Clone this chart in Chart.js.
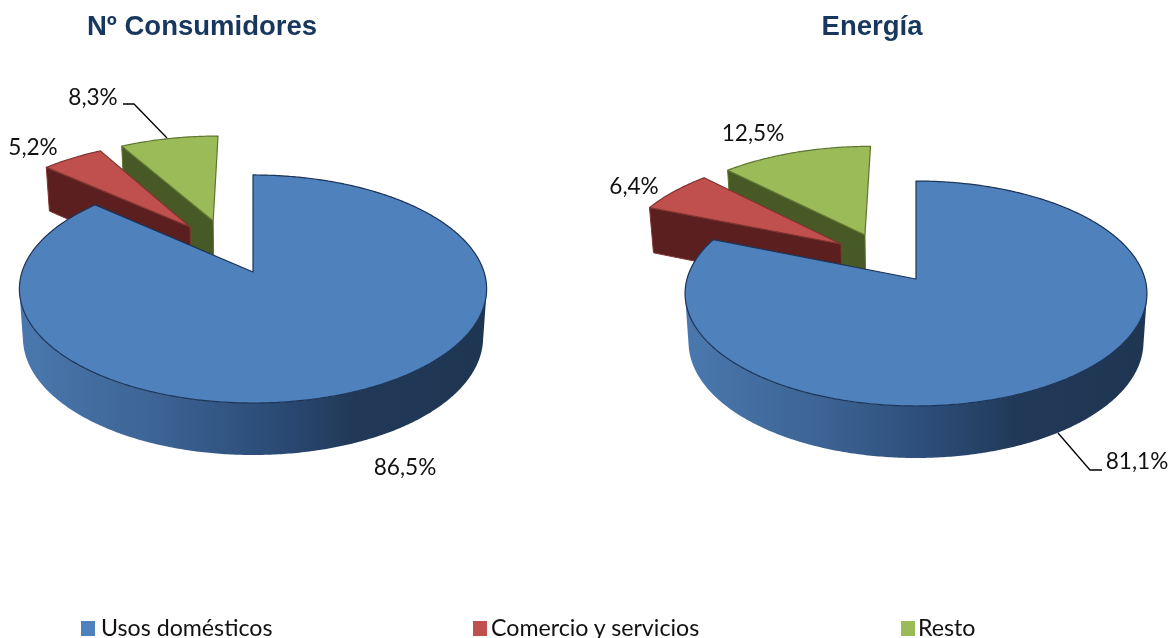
<!DOCTYPE html>
<html lang="es">
<head>
<meta charset="utf-8">
<title>Consumidores y energía</title>
<script src="https://cdn.jsdelivr.net/npm/chart.js@4"></script>
<style>
  html, body { margin: 0; padding: 0; background: #fff; }
  #page { position: relative; width: 1171px; height: 638px; overflow: hidden; }
  canvas { position: absolute; top: 0; }
  #cConsumidores { left: 0; }
  #cEnergia { left: 585px; }
  .ley { position: absolute; top: 610px; height: 28px; font: 23.2px/34px Lato, sans-serif; color: #111; white-space: nowrap; }
  .cuadro { position: absolute; top: 621px; width: 14px; height: 15px; }
</style>
</head>
<body>
<div id="page">
  <canvas id="cConsumidores"></canvas>
  <canvas id="cEnergia"></canvas>
</div>
<script>
const categorias = ['Usos domésticos', 'Comercio y servicios', 'Resto'];
const consumidores = [86.5, 5.2, 8.3];
const energia = [81.1, 6.4, 12.5];

const colores = ['#4f81bd', '#c0504d', '#9bbb59'];
const bordes = ['#1d3557', '#7f3331', '#5f7530'];
const lados = [null, '#5a1f1e', '#475a25'];

// posicion en pagina de cada leyenda
const leyendaX = [101, 491, 918];
const cuadroX = [81, 473, 901];

// vista en perspectiva de cada tarta (coordenadas de pagina)
const vistaConsumidores = {
  left: 0, ax: 253, ay: 272, A: 231, B: 111.5, k: 0.149,
  sep: [[0, 0], [-0.29, -0.429], [-0.185, -0.49]],
  etiquetas: [[405, 468], [33, 148], [93, 98]],
  guias: [[[123, 104], [134, 104], [167, 138]]]
};
const vistaEnergia = {
  left: 585, ax: 916, ay: 279, A: 229, B: 110.6, k: 0.129,
  sep: [[0, 0], [-0.342, -0.33], [-0.235, -0.419]],
  etiquetas: [[1137, 462], [634, 187], [753, 134]],
  guias: [[[1058, 433], [1090, 470], [1102, 470]]]
};

function proyectar(v, u, w, abajo) {
  const d = 1 - v.k * w;
  const esc = abajo ? 0.985 : 1;
  return [
    v.ax + esc * v.A * u / d,
    v.ay + v.B * w / d + (abajo ? 48 + 4 * w : 0)
  ];
}

function puntosArco(v, arc, sep, abajo) {
  const pts = [];
  const pasos = Math.ceil((arc.endAngle - arc.startAngle) / 0.01);
  for (let i = 0; i <= pasos; i++) {
    const a = arc.startAngle + (arc.endAngle - arc.startAngle) * i / pasos;
    pts.push(proyectar(v, Math.cos(a) + sep[0], Math.sin(a) + sep[1], abajo));
  }
  return pts;
}

function subtrazo(ctx, pts) {
  pts.forEach((p, i) => i ? ctx.lineTo(p[0], p[1]) : ctx.moveTo(p[0], p[1]));
  ctx.closePath();
}

function trazar(ctx, pts) {
  ctx.beginPath();
  subtrazo(ctx, pts);
}

// area con signo, para dejar todos los tramos con el mismo sentido
function area(pts) {
  let s = 0;
  pts.forEach((p, i) => {
    const q = pts[(i + 1) % pts.length];
    s += p[0] * q[1] - q[0] * p[1];
  });
  return s;
}

const tarta3d = {
  id: 'tarta3d',
  beforeDatasetDraw(chart) {
    const v = chart.options.plugins.tarta3d.vista;
    const ctx = chart.ctx;
    const arcos = chart.getDatasetMeta(0).data;
    ctx.save();
    ctx.translate(-v.left, 0);
    ctx.lineJoin = 'round';
    for (let i = arcos.length - 1; i >= 0; i--) {
      const arc = arcos[i];
      const sep = v.sep[i];
      const arriba = puntosArco(v, arc, sep, false);
      const bajo = puntosArco(v, arc, sep, true);
      const c0 = proyectar(v, sep[0], sep[1], false);
      const c1 = proyectar(v, sep[0], sep[1], true);
      ctx.strokeStyle = arc.options.borderColor;
      if (lados[i]) {
        // cara radial visible
        ctx.fillStyle = lados[i];
        ctx.lineWidth = 1;
        trazar(ctx, [c0, arriba[0], bajo[0], c1]);
        ctx.fill();
        ctx.stroke();
      } else {
        // pared exterior: un solo path, para que no se vean costuras
        const degradado = ctx.createLinearGradient(v.ax - v.A, 0, v.ax + v.A, 0);
        degradado.addColorStop(0, '#4a78ae');
        degradado.addColorStop(0.3, '#3c6393');
        degradado.addColorStop(0.55, '#2b4b76');
        degradado.addColorStop(0.72, '#213957');
        degradado.addColorStop(1, '#1f3653');
        ctx.fillStyle = degradado;
        ctx.beginPath();
        for (let j = 0; j < arriba.length - 1; j++) {
          const tramo = [arriba[j], arriba[j + 1], bajo[j + 1], bajo[j]];
          subtrazo(ctx, area(tramo) < 0 ? tramo.reverse() : tramo);
        }
        ctx.fill();
      }
      // cara superior
      trazar(ctx, [c0].concat(arriba));
      ctx.fillStyle = arc.options.backgroundColor;
      ctx.fill();
      ctx.lineWidth = 1.2;
      ctx.stroke();
    }
    ctx.restore();
    return false;
  },
  afterDatasetsDraw(chart) {
    const v = chart.options.plugins.tarta3d.vista;
    const ctx = chart.ctx;
    const valores = chart.data.datasets[0].data;
    ctx.save();
    ctx.translate(-v.left, 0);
    ctx.strokeStyle = '#000';
    ctx.lineWidth = 1.3;
    v.guias.forEach(g => {
      ctx.beginPath();
      g.forEach((p, i) => i ? ctx.lineTo(p[0], p[1]) : ctx.moveTo(p[0], p[1]));
      ctx.stroke();
    });
    ctx.fillStyle = '#111';
    ctx.font = '22.6px Lato, sans-serif';
    ctx.textAlign = 'center';
    ctx.textBaseline = 'middle';
    valores.forEach((val, i) => {
      const texto = val.toFixed(1).replace('.', ',') + '%';
      ctx.fillText(texto, v.etiquetas[i][0], v.etiquetas[i][1]);
    });
    ctx.restore();
  }
};

function crearTarta(id, ancho, titulo, valores, vista, margenDer) {
  const canvas = document.getElementById(id);
  canvas.width = ancho;
  canvas.height = 638;
  return new Chart(canvas, {
    type: 'pie',
    data: {
      labels: categorias,
      datasets: [{ data: valores, backgroundColor: colores, borderColor: bordes }]
    },
    options: {
      responsive: false,
      animation: false,
      layout: { padding: { right: margenDer } },
      plugins: {
        legend: { display: false },
        tooltip: { enabled: false },
        title: {
          display: true,
          text: titulo,
          color: '#17375e',
          font: { family: '"Liberation Sans", Arial, sans-serif', size: 27.5, weight: 'bold' },
          padding: { top: 11, bottom: 10 }
        },
        tarta3d: { vista: vista }
      }
    },
    plugins: [tarta3d]
  });
}

crearTarta('cConsumidores', 585, 'Nº Consumidores', consumidores, vistaConsumidores, 181);
crearTarta('cEnergia', 586, 'Energía', energia, vistaEnergia, 12);

// leyenda comun
const page = document.getElementById('page');
categorias.forEach((c, i) => {
  const d = document.createElement('div');
  d.className = 'ley';
  d.style.left = leyendaX[i] + 'px';
  d.textContent = c;
  page.appendChild(d);
  const m = document.createElement('div');
  m.className = 'cuadro';
  m.style.left = cuadroX[i] + 'px';
  m.style.background = colores[i];
  page.appendChild(m);
});
</script>
</body>
</html>
